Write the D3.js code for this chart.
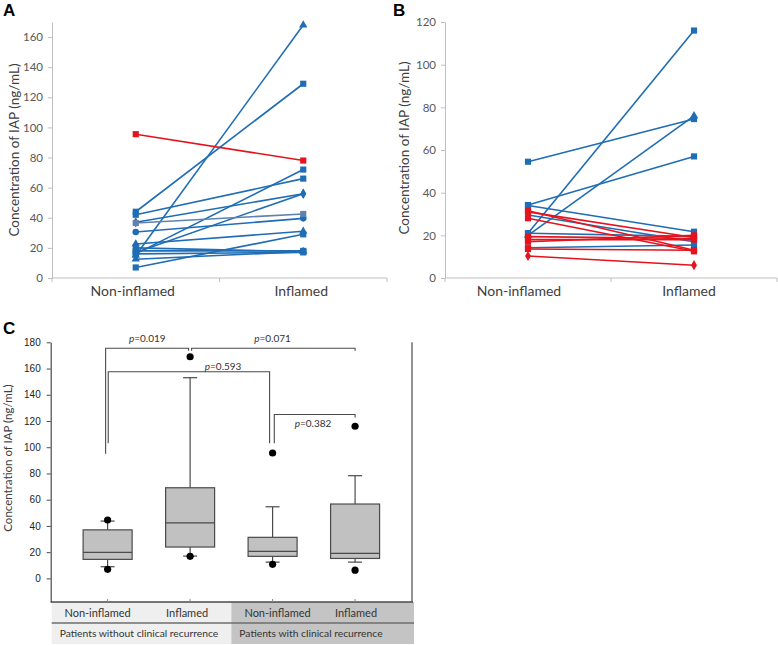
<!DOCTYPE html>
<html><head><meta charset="utf-8">
<script src="https://cdn.jsdelivr.net/npm/d3@7"></script>
<style>body{margin:0;background:#fff}svg{display:block}</style>
</head><body>
<script>
// ---------- DATA ----------
const categories = ["Non-inflamed", "Inflamed"];

// Panel A
const aTicks = [0, 20, 40, 60, 80, 100, 120, 140, 160];
const aBlueNon   = [44, 42, 37, 30.5, 22.6, 15, 16, 17, 7, 20, 18, 16, 12.5];
const aBlueInf   = [129, 66, 56, 39.6, 31, 168, 72, 56, 29, 17.5, 18, 17, 17.5];
const aBlueShape = ["square","square","diamond","circle","triangle","triangle","square","diamond","square","square","square","square","triangle"];
const aSlateNon = [36.5], aSlateInf = [42.5], aSlateShape = ["square"];
const aRedNon = [95.5], aRedInf = [78], aRedShape = ["square"];

// Panel B
const bTicks = [0, 20, 40, 60, 80, 100, 120];
const bBlueNon   = [54.5, 34.2, 21, 20, 34, 29.5, 21, 14.2];
const bBlueInf   = [74.5, 57, 116, 76, 21.7, 17, 19.5, 15.5];
const bBlueShape = ["square","square","square","triangle","square","diamond","square","square"];
const bRedNon   = [31.5, 31, 28, 19.4, 17, 18, 13.6, 10.3];
const bRedInf   = [13, 19, 12.5, 18.5, 20, 18, 13, 6];
const bRedShape = ["square","square","square","square","square","square","square","diamond"];

// Panel C (box plots)
const cGroups   = ["Non-inflamed", "Inflamed", "Non-inflamed", "Inflamed"];
const cPatients = ["Patients without clinical recurrence", "Patients with clinical recurrence"];
const cTicks = [0, 20, 40, 60, 80, 100, 120, 140, 160, 180];
const cQ1      = [14.5, 23.9, 16.8, 15.2];
const cMedian  = [19.8, 42.4, 20.6, 19.0];
const cQ3      = [37.0, 69.1, 31.3, 56.7];
const cWhiskLo = [8.9, 17.0, 12.4, 12.4];
const cWhiskHi = [43.7, 153.0, 54.6, 78.3];
const cOutLo   = [6.9, 16.8, 10.7, 6.3];
const cOutHi   = [44.5, 169.0, 95.6, 116.0];
// brackets: group indices, leg bottoms, bar level, label, label position
const pFrom    = [0, 1, 0, 2];
const pTo      = [1, 3, 2, 3];
const pLegFrom = [95, 173.5, 103, 103];
const pLegTo   = [173.5, 173.5, 103, 122.7];
const pBar     = [175.5, 175.5, 157.6, 125];
const pLabel   = ["0.019", "0.071", "0.593", "0.382"];
const pLabelAt = [0.48, 2.0, 1.4, 2.49];
const pLabelY  = [180.5, 180.5, 158.5, 115.4];

// ---------- DRAWING ----------
const W = 778, H = 645;
const svg = d3.select("body").append("svg").attr("width", W).attr("height", H);
const FONT = "Lato, 'Open Sans', sans-serif";
const BLUE = "#1f6db4", RED = "#e5131d", SLATE = "#5f82b0";

const symbolMap = {square: d3.symbolSquare, triangle: d3.symbolTriangle, diamond: d3.symbolDiamond, circle: d3.symbolCircle};
const symbolSize = {square: 38, triangle: 30, diamond: 30, circle: 34};

function pairedPanel(g, opts) {
  const x = d3.scaleBand().domain(categories).range([opts.x0, opts.x1]);
  const y = d3.scaleLinear().domain(opts.domain).range([278, 22]);
  const cx = c => x(c) + x.bandwidth() / 2;

  // y axis
  const ya = g.append("g").attr("transform", `translate(${opts.x0},0)`)
    .call(d3.axisLeft(y).tickValues(opts.ticks).tickSize(4).tickSizeOuter(0).tickPadding(5));
  ya.select(".domain").attr("stroke", "#bfbfbf");
  ya.selectAll(".tick line").attr("stroke", "#bfbfbf");
  ya.selectAll("text").attr("font-family", FONT).attr("font-size", 11.5).attr("fill", "#595959");

  // x axis
  g.append("line").attr("x1", opts.x0).attr("x2", opts.x1).attr("y1", y(0)).attr("y2", y(0)).attr("stroke", "#bfbfbf");
  const bounds = [x(categories[0]), x(categories[1]), x(categories[1]) + x.bandwidth()];
  g.selectAll(".xt").data(bounds).join("line").attr("x1", d => d).attr("x2", d => d)
    .attr("y1", y(0)).attr("y2", y(0) + 4).attr("stroke", "#bfbfbf");
  g.selectAll(".xl").data(categories).join("text")
    .attr("x", (d, i) => cx(d) + opts.labelDx[i]).attr("y", 296).attr("text-anchor", "middle")
    .attr("font-family", FONT).attr("font-size", 14).attr("fill", "#404040").text(d => d);

  // y label
  g.append("text").attr("transform", `translate(${opts.ylx},${opts.yly}) rotate(-90)`)
    .attr("text-anchor", "middle").attr("font-family", FONT).attr("font-size", 13.5).attr("fill", "#404040")
    .text("Concentration of IAP (ng/mL)");

  // panel letter
  g.append("text").attr("x", opts.lx).attr("y", 16).attr("font-family", "'Liberation Sans', Arial, sans-serif")
    .attr("font-weight", "bold").attr("font-size", 17).attr("fill", "#000").text(opts.letter);

  // series
  opts.series.forEach(s => {
    const rows = s.non.map((v, i) => ({a: v, b: s.inf[i], shape: s.shape[i]}));
    const sg = g.append("g");
    sg.selectAll("line").data(rows).join("line")
      .attr("x1", cx(categories[0])).attr("x2", cx(categories[1]))
      .attr("y1", d => y(d.a)).attr("y2", d => y(d.b))
      .attr("stroke", s.color).attr("stroke-width", 1.6);
    rows.forEach(d => {
      [[categories[0], d.a], [categories[1], d.b]].forEach(([c, v]) => {
        sg.append("path").attr("d", d3.symbol().type(symbolMap[d.shape]).size(symbolSize[d.shape])())
          .attr("transform", `translate(${cx(c)},${y(v)})`).attr("fill", s.color);
      });
    });
  });
}

pairedPanel(svg.append("g"), {
  x0: 52, x1: 387, domain: [0, 170], ticks: aTicks, letter: "A", lx: 3, ylx: 19, yly: 150,
  labelDx: [-3, -2],
  series: [
    {non: aBlueNon, inf: aBlueInf, shape: aBlueShape, color: BLUE},
    {non: aSlateNon, inf: aSlateInf, shape: aSlateShape, color: SLATE},
    {non: aRedNon, inf: aRedInf, shape: aRedShape, color: RED}
  ]
});

pairedPanel(svg.append("g"), {
  x0: 445, x1: 777, domain: [0, 120], ticks: bTicks, letter: "B", lx: 393, ylx: 409, yly: 148,
  labelDx: [-9, -5],
  series: [
    {non: bBlueNon, inf: bBlueInf, shape: bBlueShape, color: BLUE},
    {non: bRedNon, inf: bRedInf, shape: bRedShape, color: RED}
  ]
});

// ---------- Panel C ----------
(function () {
  const g = svg.append("g");
  const X0 = 50.7, X1 = 412;
  const x = d3.scaleBand().domain(d3.range(cGroups.length)).range([X0, X1]).paddingOuter(0.19).paddingInner(0);
  const cx = i => x(i) + x.bandwidth() / 2;
  const y = d3.scaleLinear().domain([-18, 180]).range([602, 342.3]);
  const DARK = "#4a4a4a";

  // table background
  const mid = (cx(1) + cx(2)) / 2;
  g.append("rect").attr("x", X0 + 1).attr("y", 602).attr("width", mid - X0 - 1).attr("height", 42).attr("fill", "#efefef");
  g.append("rect").attr("x", mid).attr("y", 602).attr("width", X1 + 2 - mid).attr("height", 42).attr("fill", "#c4c4c4");
  g.append("line").attr("x1", X0 + 1).attr("x2", X1 + 2).attr("y1", 623).attr("y2", 623).attr("stroke", "#6e6e6e").attr("stroke-width", 1.5);
  g.selectAll(".grp").data(cGroups).join("text")
    .attr("x", (d, i) => cx(i) + [-10, -3, 5, 1][i]).attr("y", 617).attr("text-anchor", "middle")
    .attr("font-family", FONT).attr("font-size", 11).attr("fill", "#333").text(d => d);
  g.selectAll(".pat").data(cPatients).join("text")
    .attr("x", (d, i) => (i === 0 ? X0 + 1 : mid) + 8).attr("y", 637)
    .attr("font-family", FONT).attr("font-size", 10.3).attr("fill", "#333").text(d => d);

  // axes frame
  const ya = g.append("g").attr("transform", `translate(${X0},0)`)
    .call(d3.axisLeft(y).tickValues(cTicks).tickSize(4).tickSizeOuter(0).tickPadding(6));
  ya.select(".domain").attr("stroke", DARK).attr("stroke-width", 1.2);
  ya.selectAll(".tick line").attr("stroke", DARK);
  ya.selectAll("text").attr("font-family", "'Liberation Sans', Arial, sans-serif").attr("font-size", 10).attr("fill", "#222");
  g.append("line").attr("x1", X0).attr("x2", X1 + 1).attr("y1", 602).attr("y2", 602).attr("stroke", DARK).attr("stroke-width", 1.5);
  g.append("line").attr("x1", X1).attr("x2", X1).attr("y1", y(180)).attr("y2", 602).attr("stroke", DARK).attr("stroke-width", 1.2);
  g.selectAll(".bt").data(cGroups).join("line")
    .attr("x1", (d, i) => cx(i)).attr("x2", (d, i) => cx(i)).attr("y1", 602).attr("y2", 599).attr("stroke", "#888");

  g.append("text").attr("transform", `translate(12,458) rotate(-90)`).attr("text-anchor", "middle")
    .attr("font-family", FONT).attr("font-size", 11.5).attr("fill", "#404040").text("Concentration of IAP (ng/mL)");
  g.append("text").attr("x", 3).attr("y", 334).attr("font-family", "'Liberation Sans', Arial, sans-serif")
    .attr("font-weight", "bold").attr("font-size", 17).attr("fill", "#000").text("C");

  // boxes
  const bw = 49, cap = 14;
  cGroups.forEach((gname, i) => {
    const c = cx(i);
    g.append("line").attr("x1", c).attr("x2", c).attr("y1", y(cQ3[i])).attr("y2", y(cWhiskHi[i])).attr("stroke", DARK).attr("stroke-width", 1.2);
    g.append("line").attr("x1", c).attr("x2", c).attr("y1", y(cQ1[i])).attr("y2", y(cWhiskLo[i])).attr("stroke", DARK).attr("stroke-width", 1.2);
    [cWhiskHi[i], cWhiskLo[i]].forEach(v => g.append("line").attr("x1", c - cap / 2).attr("x2", c + cap / 2)
      .attr("y1", y(v)).attr("y2", y(v)).attr("stroke", DARK).attr("stroke-width", 1.2));
    g.append("rect").attr("x", c - bw / 2).attr("y", y(cQ3[i])).attr("width", bw).attr("height", y(cQ1[i]) - y(cQ3[i]))
      .attr("fill", "#c1c1c1").attr("stroke", DARK).attr("stroke-width", 1.2);
    g.append("line").attr("x1", c - bw / 2).attr("x2", c + bw / 2).attr("y1", y(cMedian[i])).attr("y2", y(cMedian[i]))
      .attr("stroke", DARK).attr("stroke-width", 1.2);
    [cOutHi[i], cOutLo[i]].forEach(v => g.append("circle").attr("cx", c).attr("cy", y(v)).attr("r", 3.6).attr("fill", "#000"));
  });

  // brackets
  const offs = [[-2, -1.5], [1.5, 0], [0.6, -3], [1.7, 0]];
  pLabel.forEach((lab, k) => {
    const xa = cx(pFrom[k]) + offs[k][0], xb = cx(pTo[k]) + offs[k][1];
    g.append("path").attr("d", `M${xa},${y(pLegFrom[k])}V${y(pBar[k])}H${xb}V${y(pLegTo[k])}`)
      .attr("fill", "none").attr("stroke", DARK).attr("stroke-width", 1.1);
    const t = g.append("text").attr("x", X0 + x.paddingOuter() * x.step() + (pLabelAt[k] + 0.5) * x.step())
      .attr("y", y(pLabelY[k])).attr("text-anchor", "middle")
      .attr("font-family", FONT).attr("font-size", 10).attr("fill", "#333");
    t.append("tspan").attr("font-style", "italic").text("p");
    t.append("tspan").text("=" + lab);
  });
})();
</script>
</body></html>
